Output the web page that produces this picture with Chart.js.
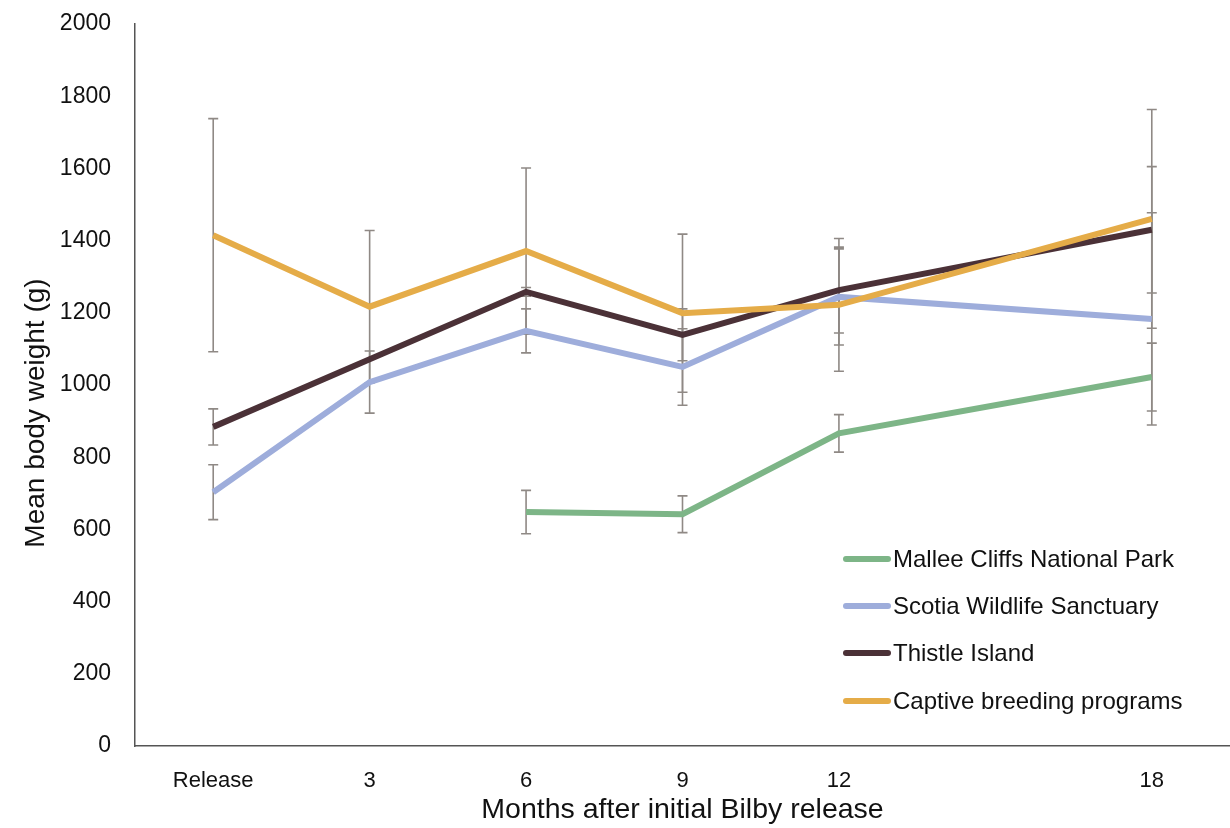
<!DOCTYPE html>
<html lang="en">
<head>
    <meta charset="UTF-8">
    <title>Mean body weight of Bilbies after release</title>
    <style>
        body {
            margin: 0;
            background: #ffffff;
            font-family: 'Liberation Sans', Arial, sans-serif;
        }
        .wrap {
            position: relative;
            width: 1230px;
            height: 828px;
        }
        #legend {
            position: absolute;
            left: 843px;
            top: 535px;
            list-style: none;
            margin: 0;
            padding: 0;
        }
        #legend li {
            display: flex;
            align-items: center;
            height: 47.3px;
            font-size: 24px;
            color: #111111;
            white-space: nowrap;
        }
        #legend .swatch {
            display: inline-block;
            width: 48px;
            height: 6px;
            border-radius: 3px;
            margin-right: 2px;
        }
    </style>
</head>
<body>
    <div class="wrap">
        <canvas id="bilbyChart" width="1230" height="828"></canvas>
        <ul id="legend"></ul>
    </div>

    <script src="https://cdn.jsdelivr.net/npm/chart.js@4.4.3/dist/chart.umd.min.js"></script>
    <script>
        // months after release; the empty slot stands for month 15 (no data)
        const months = ['Release', '3', '6', '9', '12', '', '18'];

        const seriesNames = [
            'Mallee Cliffs National Park',
            'Scotia Wildlife Sanctuary',
            'Thistle Island',
            'Captive breeding programs'
        ];

        // mean body weight (g)
        const mallee  = [null, null, 648, 642, 866, null, 1022];
        const scotia  = [703, 1008, 1150, 1050, 1244, null, 1183];
        const thistle = [884, 1071, 1258, 1139, 1263, null, 1430];
        const captive = [1415, 1217, 1371, 1199, 1222, null, 1460];

        // error bar half-widths (g)
        const malleeErr  = [null, null, 60, 51, 52, null, 94];
        const scotiaErr  = [76, 86, 61, 106, 133, null, 294];
        const thistleErr = [50, null, 12, 72, 119, null, 175];
        const captiveErr = [323, 211, 230, 219, 184, null, 303];

        const colors = ['#7db587', '#9eaddb', '#4b3137', '#e5ac48'];

        const values = [mallee, scotia, thistle, captive];
        const errors = [malleeErr, scotiaErr, thistleErr, captiveErr];

        const font = "'Liberation Sans', Arial, sans-serif";

        // error bars go under the lines
        const errorBars = {
            id: 'errorBars',
            beforeDatasetsDraw(chart) {
                const ctx = chart.ctx;
                const x = chart.scales.x;
                const y = chart.scales.y;
                ctx.save();
                ctx.strokeStyle = '#8f8985';
                ctx.lineWidth = 1.6;
                errors.forEach((errs, s) => {
                    errs.forEach((e, i) => {
                        const v = values[s][i];
                        if (e == null || v == null) return;
                        const px = x.getPixelForValue(i);
                        const top = y.getPixelForValue(v + e);
                        const bot = y.getPixelForValue(v - e);
                        ctx.beginPath();
                        ctx.moveTo(px, top);
                        ctx.lineTo(px, bot);
                        ctx.moveTo(px - 5, top);
                        ctx.lineTo(px + 5, top);
                        ctx.moveTo(px - 5, bot);
                        ctx.lineTo(px + 5, bot);
                        ctx.stroke();
                    });
                });
                ctx.restore();
            }
        };

        // y title placed a bit lower than the plot centre, like the original
        const yTitle = {
            id: 'yTitle',
            afterDraw(chart) {
                const ctx = chart.ctx;
                ctx.save();
                ctx.translate(36, 413);
                ctx.rotate(-Math.PI / 2);
                ctx.font = '28px ' + font;
                ctx.fillStyle = '#111111';
                ctx.textAlign = 'center';
                ctx.textBaseline = 'middle';
                ctx.fillText('Mean body weight (g)', 0, 0);
                ctx.restore();
            }
        };

        const datasets = seriesNames.map((name, s) => ({
            label: name,
            data: values[s],
            borderColor: colors[s],
            backgroundColor: colors[s],
            borderWidth: 6,
            pointRadius: 0,
            tension: 0,
            spanGaps: true,
            order: seriesNames.length - s
        }));

        new Chart(document.getElementById('bilbyChart'), {
            type: 'line',
            data: { labels: months, datasets: datasets },
            options: {
                responsive: false,
                animation: false,
                layout: { padding: { top: 24, right: 0, left: 0, bottom: 0 } },
                plugins: {
                    legend: { display: false },
                    tooltip: { enabled: false }
                },
                scales: {
                    x: {
                        offset: true,
                        grid: { display: false, drawTicks: false },
                        border: { display: true, color: '#555555', width: 1.5 },
                        ticks: {
                            color: '#111111',
                            padding: 22,
                            maxRotation: 0,
                            autoSkip: false,
                            font: { family: font, size: 22 }
                        },
                        title: {
                            display: true,
                            text: 'Months after initial Bilby release',
                            color: '#111111',
                            padding: { top: 0, bottom: 1 },
                            font: { family: font, size: 28.5 }
                        },
                        afterFit(scale) { scale.height = 82; }
                    },
                    y: {
                        min: 0,
                        max: 2000,
                        grid: { display: false, drawTicks: false },
                        border: { display: true, color: '#555555', width: 1.5 },
                        ticks: {
                            stepSize: 200,
                            color: '#111111',
                            padding: 24,
                            font: { family: font, size: 23 },
                            callback: (v) => String(v)
                        },
                        afterFit(scale) {
                            scale.width = 135;
                            // tick padding should not push the plot down
                            scale.paddingTop = 0;
                            scale.paddingBottom = 0;
                        }
                    }
                }
            },
            plugins: [errorBars, yTitle]
        });

        // legend as HTML, built from the same names and colours
        const legend = document.getElementById('legend');
        seriesNames.forEach((name, s) => {
            const li = document.createElement('li');
            const sw = document.createElement('span');
            sw.className = 'swatch';
            sw.style.background = colors[s];
            li.appendChild(sw);
            li.appendChild(document.createTextNode(name));
            legend.appendChild(li);
        });
    </script>
</body>
</html>
